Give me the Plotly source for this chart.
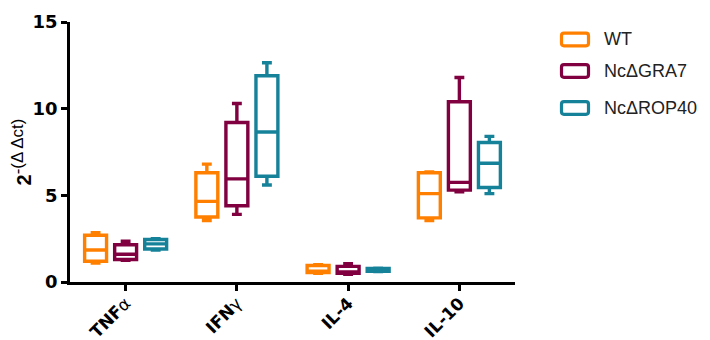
import plotly.graph_objects as go

categories = ["<b>TNF</b>α", "<b>IFN</b>γ", "<b>IL-4</b>", "<b>IL-10</b>"]
series_names = ["WT", "NcΔGRA7", "NcΔROP40"]
colors = ["#FF8000", "#800040", "#16829A"]

# per series: [TNFa, IFNg, IL-4, IL-10]
wt_min = [1.1, 3.55, 0.5, 3.55]
wt_q1 = [1.2, 3.75, 0.55, 3.7]
wt_med = [1.85, 4.65, 0.62, 5.1]
wt_q3 = [2.7, 6.3, 0.95, 6.3]
wt_max = [2.85, 6.8, 1.0, 6.35]

gra7_min = [1.25, 3.9, 0.45, 5.2]
gra7_q1 = [1.3, 4.4, 0.5, 5.3]
gra7_med = [1.6, 5.95, 0.58, 5.75]
gra7_q3 = [2.15, 9.2, 0.9, 10.4]
gra7_max = [2.35, 10.3, 1.05, 11.8]

rop40_min = [1.85, 5.6, 0.6, 5.1]
rop40_q1 = [1.9, 6.1, 0.62, 5.45]
rop40_med = [2.2, 8.65, 0.7, 6.85]
rop40_q3 = [2.45, 11.9, 0.78, 8.05]
rop40_max = [2.5, 12.65, 0.8, 8.4]

stats = [
    (wt_min, wt_q1, wt_med, wt_q3, wt_max),
    (gra7_min, gra7_q1, gra7_med, gra7_q3, gra7_max),
    (rop40_min, rop40_q1, rop40_med, rop40_q3, rop40_max),
]

# the page body margin shifts the figure by 8px right and down
OFFX, OFFY = 8, 8
W, H = 710 - OFFX, 340 - OFFY
ML, MR, MT, MB = 70 - OFFX, 195, 22 - OFFY, 58
PW, PH = W - ML - MR, H - MT - MB

fig = go.Figure()
for name, color, (mn, q1, md, q3, mx) in zip(series_names, colors, stats):
    fig.add_trace(go.Box(
        name=name, x=categories, lowerfence=mn, q1=q1, median=md, q3=q3, upperfence=mx,
        line=dict(color=color, width=3.4), fillcolor="white",
        whiskerwidth=0.45, boxpoints=False, showlegend=False,
        hoverinfo="skip",
    ))

# custom legend (rounded rectangle symbols); positions given in screen pixels
def px_to_paper(px, py):
    return (px - OFFX - ML) / PW, (H - MB - (py - OFFY)) / PH

legend_y = [39.5, 71, 108]
shapes, annotations = [], []
for name, color, cy in zip(series_names, colors, legend_y):
    x0, x1 = 561.5, 588.5
    y0, y1 = cy - 6.3, cy + 6.3
    r = 2.5

    def P(px, py):
        a, b = px_to_paper(px, py)
        return f"{a:.5f},{b:.5f}"
    path = (f"M {P(x0 + r, y0)} L {P(x1 - r, y0)} Q {P(x1, y0)} {P(x1, y0 + r)} "
            f"L {P(x1, y1 - r)} Q {P(x1, y1)} {P(x1 - r, y1)} "
            f"L {P(x0 + r, y1)} Q {P(x0, y1)} {P(x0, y1 - r)} "
            f"L {P(x0, y0 + r)} Q {P(x0, y0)} {P(x0 + r, y0)} Z")
    shapes.append(dict(type="path", xref="paper", yref="paper", path=path,
                       line=dict(color=color, width=3.2), fillcolor="white"))
    tx, ty = px_to_paper(602, cy)
    annotations.append(dict(text=name, xref="paper", yref="paper", x=tx, y=ty,
                            xanchor="left", yanchor="middle", showarrow=False,
                            font=dict(size=18, family="Liberation Sans, Arial, sans-serif", color="#222")))

tick_family = "DejaVu Sans, Verdana, sans-serif"
fig.update_layout(
    width=W, height=H,
    margin=dict(l=ML, r=MR, t=MT, b=MB),
    paper_bgcolor="white", plot_bgcolor="white",
    boxmode="group", boxgap=0.19, boxgroupgap=0.27,
    font=dict(family="Liberation Sans, Arial, sans-serif", color="black"),
    showlegend=False,
    shapes=shapes, annotations=annotations,
    xaxis=dict(
        showline=True, linecolor="black", linewidth=2.5,
        ticks="outside", ticklen=6, tickwidth=2.5, tickcolor="black",
        tickangle=-45, tickfont=dict(size=17, family=tick_family, color="black"),
        ticklabelstandoff=-4,
        range=[-0.5, 3.5], showgrid=False, zeroline=False, automargin=False,
    ),
    yaxis=dict(
        range=[0, 15], tickvals=[0, 5, 10, 15],
        showline=True, linecolor="black", linewidth=2.5,
        ticks="outside", ticklen=6, tickwidth=2.5, tickcolor="black",
        tickfont=dict(size=18, family=tick_family, color="black", weight="bold"),
        showgrid=False, zeroline=False, automargin=False,
        title=dict(text="<b>2</b><sup><span style='font-size:17px'>-(Δ Δct)</span></sup>",
                   font=dict(size=20, family="Liberation Sans, Arial, sans-serif"), standoff=0),
    ),
)

fig.write_html("out.html")
